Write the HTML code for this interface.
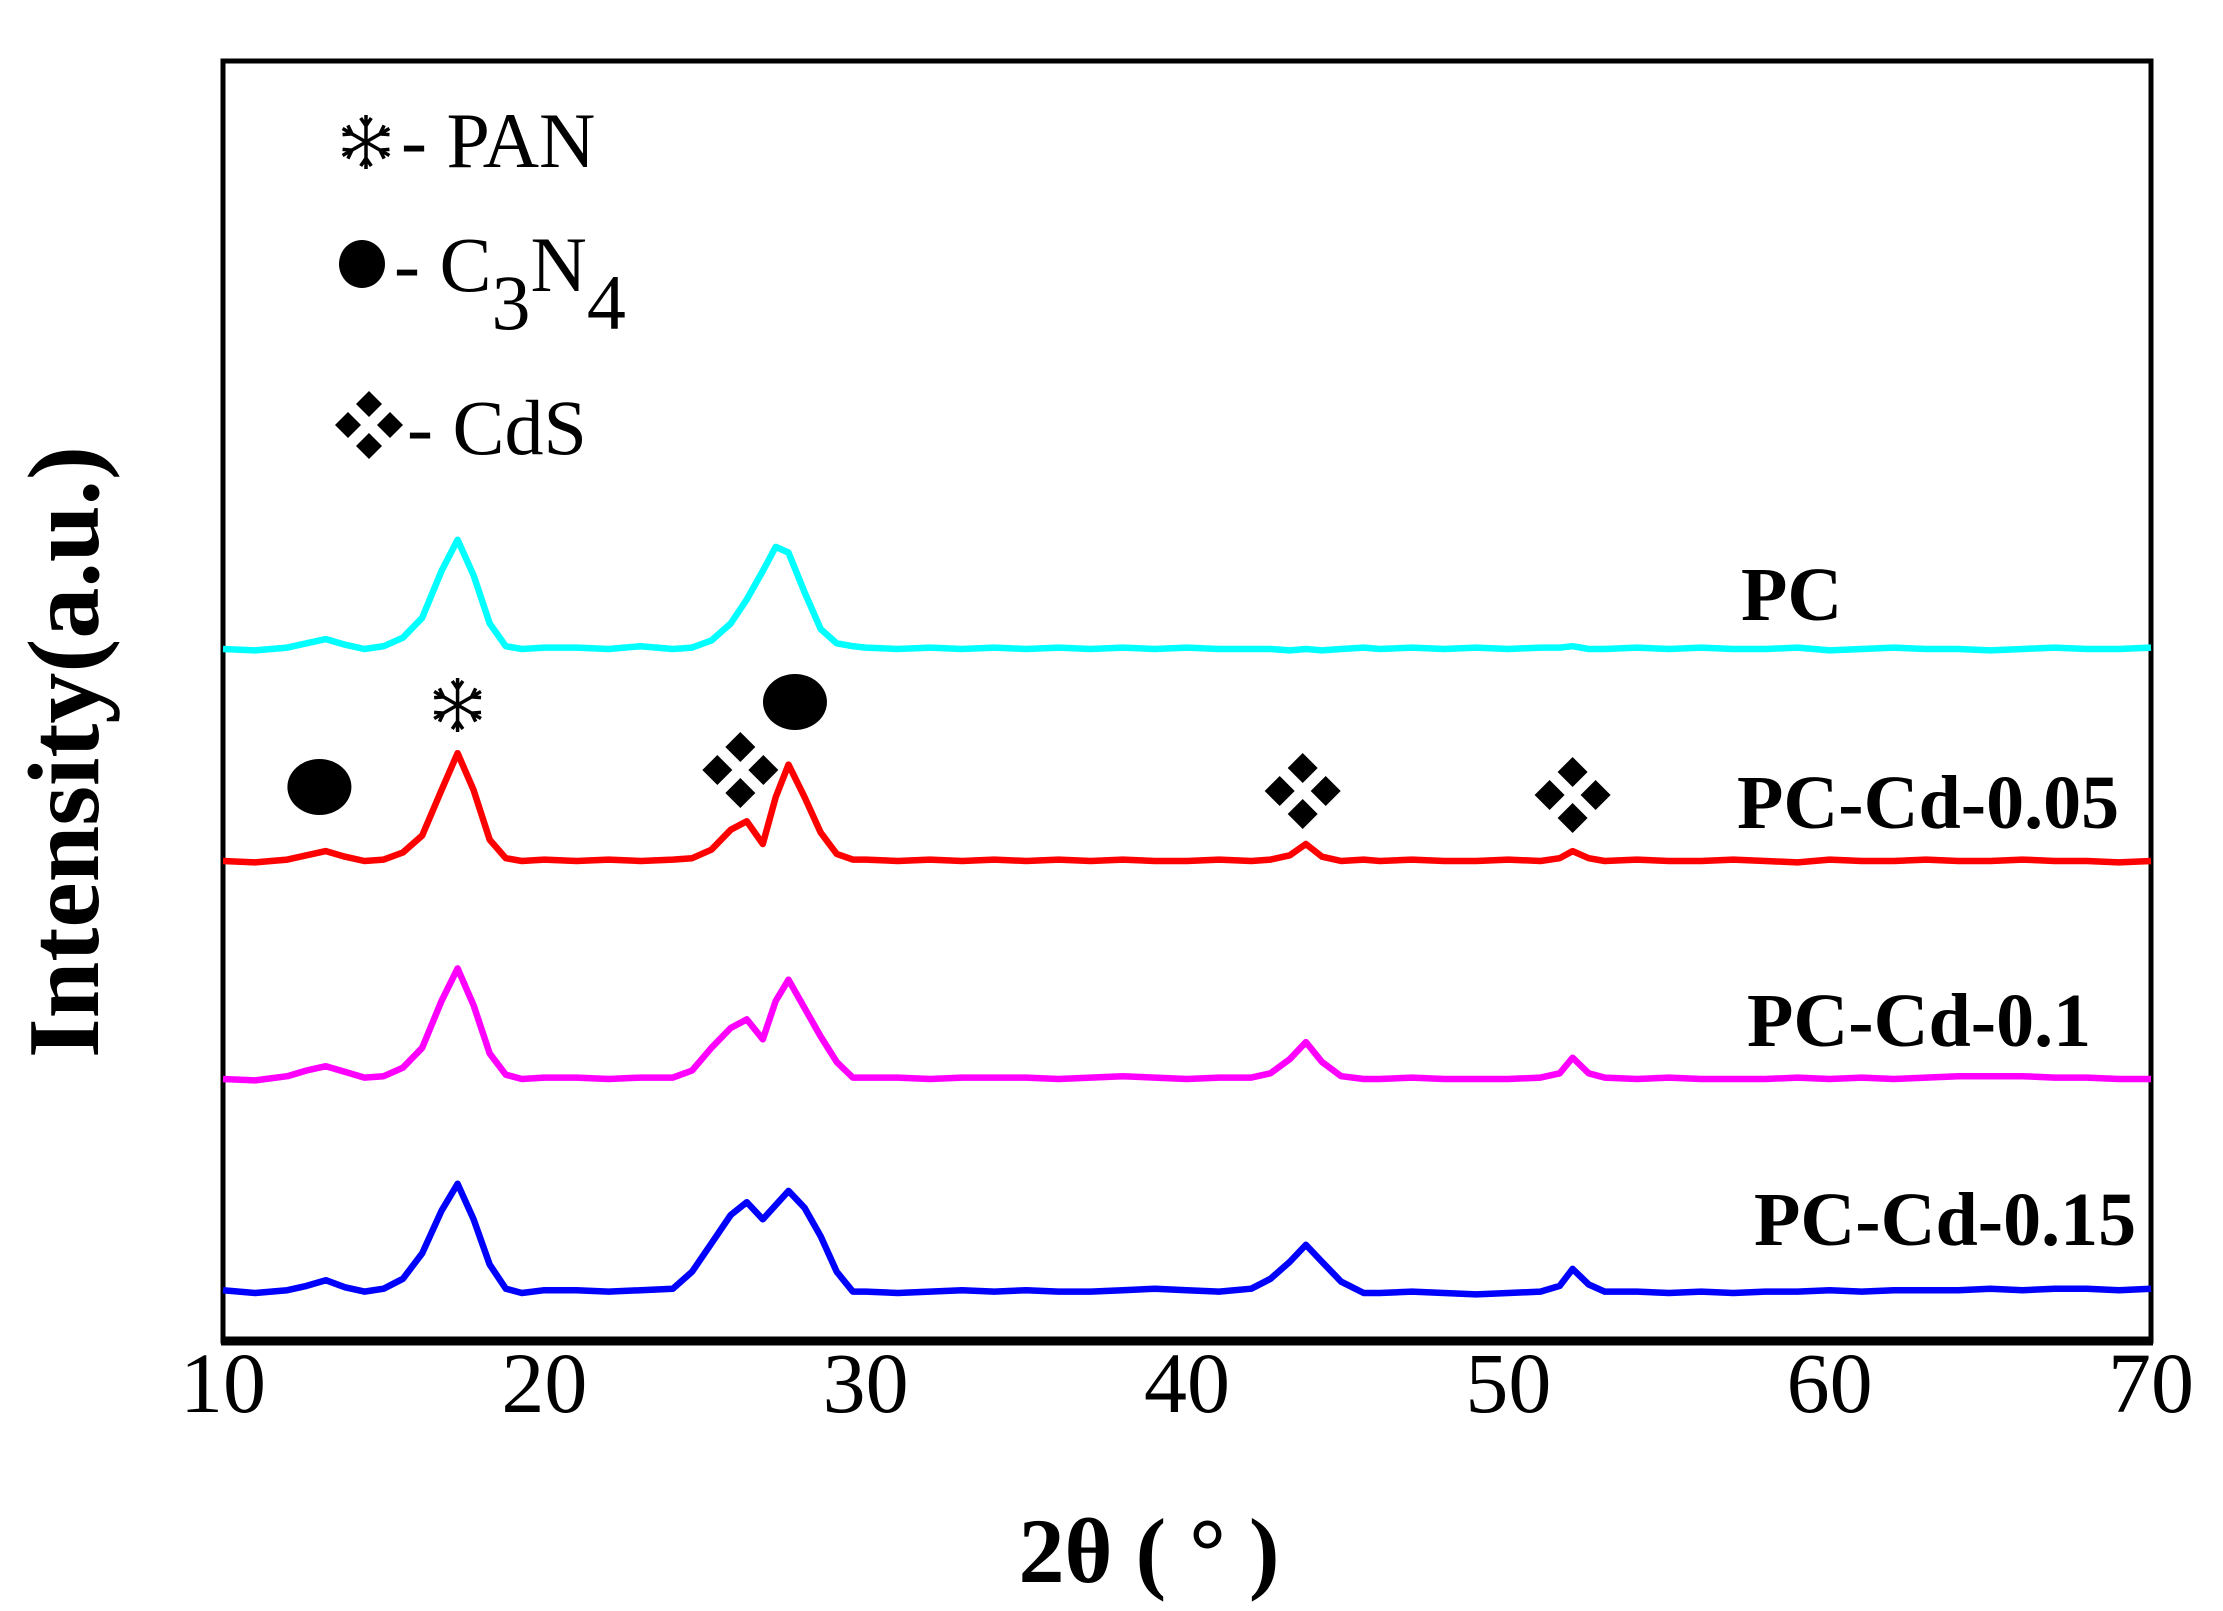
<!DOCTYPE html>
<html><head><meta charset="utf-8"><style>
html,body{margin:0;padding:0;background:#fff;}
svg{display:block;}
text{font-family:"Liberation Serif","DejaVu Serif",serif;}
</style></head><body>
<svg id="chart" width="2223" height="1611" viewBox="0 0 2223 1611">
  <rect x="223" y="61" width="1928" height="1280" fill="none" stroke="#000" stroke-width="5"/>
  <line x1="221" y1="1341" x2="2153" y2="1341" stroke="#000" stroke-width="9"/>
  <g id="xticks"></g>
  <text x="1149" y="1582" font-size="92" font-weight="bold" text-anchor="middle">2θ ( ° )</text>
  <text transform="translate(98,752) rotate(-90)" font-size="102" font-weight="bold" text-anchor="middle">Intensity(a.u.)</text>
  <g id="series"></g>
  <g id="labels"></g>
  <g id="markers"></g>
  <g>
    <g id="leg-snow"></g>
    <text x="401" y="167" font-size="78">- PAN</text>
    <ellipse cx="362" cy="264" rx="23" ry="24" fill="#000"/>
    <text x="394" y="291" font-size="78">- C<tspan dy="38">3</tspan><tspan dy="-38">N</tspan><tspan dy="38">4</tspan></text>
    <g id="leg-cds"></g>
    <text x="407" y="454" font-size="78">- CdS</text>
  </g>
</svg>
<script>
const xTicks = [10,20,30,40,50,60,70];
const twoTheta = [10,11,12,12.6,13.2,13.8,14.4,15,15.6,16.2,16.8,17.3,17.8,18.3,18.8,19.3,20,21,22,23,24,24.6,25.2,25.8,26.3,26.8,27.2,27.6,28.1,28.6,29.1,29.6,30,31,32,33,34,35,36,37,38,39,40,41,42,42.6,43.2,43.7,44.2,44.8,45.5,46,47,48,49,50,51,51.6,52,52.5,53,54,55,56,57,58,59,60,61,62,63,64,65,66,67,68,69,70];
const seriesNames = ["PC","PC-Cd-0.05","PC-Cd-0.1","PC-Cd-0.15"];
const seriesColors = ["#00ffff","#ff0000","#ff00ff","#0000ff"];
const seriesOffsets = [649,861,1079,1293];
const pcValues = [0,-1,1,4,7,3,0,2,8,22,55,77,52,18,2,0,1,1,0,2,0,1,6,18,35,55,72,68,40,14,4,2,1,0,1,0,1,0,1,0,1,0,1,0,0,0,-1,0,-1,0,1,0,1,0,1,0,1,1,2,0,0,1,0,1,0,0,1,-1,0,1,0,0,-1,0,1,0,0,1];
const cd005Values = [0,-1,1,4,7,3,0,1,6,18,50,76,50,15,2,0,1,0,1,0,1,2,8,22,28,12,45,68,45,20,5,1,1,0,1,0,1,0,1,0,1,0,0,1,0,1,4,12,3,0,1,0,1,0,0,1,0,2,7,2,0,1,0,0,1,0,-1,1,0,0,1,0,0,1,0,0,-1,0];
const cd01Values = [0,-1,2,6,9,5,1,2,8,22,55,78,52,18,3,0,1,1,0,1,1,6,22,36,42,28,55,70,50,30,12,1,1,1,0,1,1,1,0,1,2,1,0,1,1,4,14,26,12,2,0,0,1,0,0,0,1,4,15,4,1,0,1,0,0,0,1,0,1,0,1,2,2,2,1,1,0,0];
const cd015Values = [2,0,2,5,9,4,1,3,10,28,58,77,52,20,3,0,2,2,1,2,3,15,35,55,64,52,62,72,60,40,15,1,1,0,1,2,1,2,1,1,2,3,2,1,3,10,22,34,22,8,0,0,1,0,-1,0,1,5,17,6,1,1,0,1,0,1,1,2,1,2,2,2,3,2,3,3,2,3];
const allValues = [pcValues,cd005Values,cd01Values,cd015Values];
const labelX = [1741,1737,1747,1754];
const labelY = [620,828,1046,1245];

const NS="http://www.w3.org/2000/svg";
const X0=223,X1=2151,XMIN=10,XMAX=70,YS=1.418;
function xScale(t){return X0+(t-XMIN)/(XMAX-XMIN)*(X1-X0);}
function yScale(v,off){return off-v*YS;}

const xt=document.getElementById('xticks');
xTicks.forEach(t=>{
  const e=document.createElementNS(NS,'text');
  
  
  e.setAttribute('x',xScale(t));e.setAttribute('y',1412);
  e.setAttribute('font-size','86');e.setAttribute('text-anchor','middle');
  e.textContent=t;xt.appendChild(e);
});

const sg=document.getElementById('series'), lg=document.getElementById('labels');
allValues.forEach((vals,i)=>{
  const d=vals.map((v,j)=>(j?'L':'M')+xScale(twoTheta[j]).toFixed(1)+','+yScale(v,seriesOffsets[i]).toFixed(1)).join(' ');
  const p=document.createElementNS(NS,'path');
  
  
  p.setAttribute('d',d);p.setAttribute('fill','none');p.setAttribute('stroke',seriesColors[i]);
  p.setAttribute('stroke-width','6.5');p.setAttribute('stroke-linejoin','round');
  sg.appendChild(p);
  const t=document.createElementNS(NS,'text');
  
  
  t.setAttribute('x',labelX[i]);t.setAttribute('y',labelY[i]);
  t.setAttribute('font-size','76');t.setAttribute('font-weight','bold');
  t.textContent=seriesNames[i];lg.appendChild(t);
});

function snowflake(g,cx,cy,s){
  let d='';
  for(let k=0;k<3;k++){
    const a=k*Math.PI/3+Math.PI/2, c=Math.cos(a), sn=Math.sin(a);
    d+=`M${cx-c*s},${cy-sn*s}L${cx+c*s},${cy+sn*s}`;
    [1,-1].forEach(dir=>{
      const bx=cx+dir*c*s*0.6, by=cy+dir*sn*s*0.6;
      [0.5,-0.5].forEach(o=>{
        d+=`M${bx},${by}L${bx+dir*Math.cos(a+o*1.2)*s*0.35},${by+dir*Math.sin(a+o*1.2)*s*0.35}`;
      });
    });
  }
  const p=document.createElementNS(NS,'path');
  
  
  p.setAttribute('d',d);p.setAttribute('stroke','#000');p.setAttribute('stroke-width','3.5');p.setAttribute('fill','none');
  g.appendChild(p);
}
function cds(g,cx,cy,off,h){
  [[0,-1],[-1,0],[1,0],[0,1]].forEach(([dx,dy])=>{
    const x=cx+dx*off,y=cy+dy*off;
    const p=document.createElementNS(NS,'polygon');
    
    
    p.setAttribute('points',`${x},${y-h} ${x+h},${y} ${x},${y+h} ${x-h},${y}`);
    p.setAttribute('fill','#000');g.appendChild(p);
  });
}
snowflake(document.getElementById('leg-snow'),366,142,27);
cds(document.getElementById('leg-cds'),369,425,21,13);
const mk=document.getElementById('markers');
snowflake(mk,xScale(17.3),705,27);
[[13,787],[27.8,702]].forEach(([t,y])=>{
  const e=document.createElementNS(NS,'ellipse');
  
  
  e.setAttribute('cx',xScale(t));e.setAttribute('cy',y);e.setAttribute('rx',32);e.setAttribute('ry',28);
  mk.appendChild(e);
});
[[26.1,770],[43.6,791],[52,795]].forEach(([t,y])=>cds(mk,xScale(t),y,23,15));
</script>
</body></html>
